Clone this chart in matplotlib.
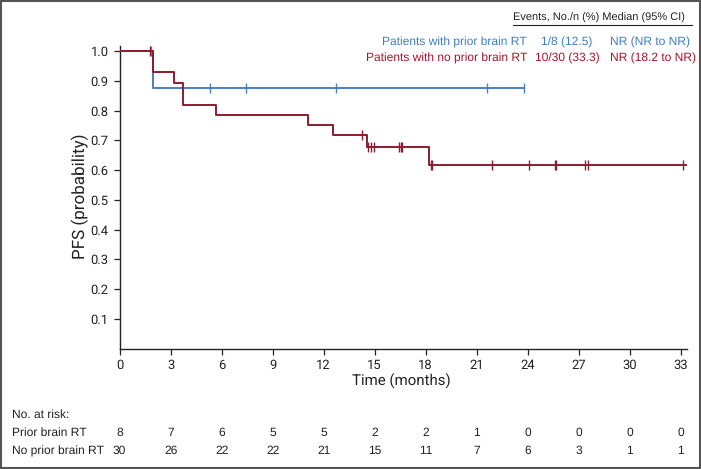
import matplotlib
matplotlib.use("Agg")
import matplotlib.pyplot as plt
from matplotlib.patches import Rectangle

plt.rcParams["text.hinting"] = "no_hinting"
plt.rcParams["text.hinting_factor"] = 1

# ---- data ----
# Blue: prior brain RT
blue_times = [0, 1.95, 23.8]
blue_surv = [1.0, 0.875, 0.875]
blue_censor_t = [1.85, 5.3, 7.4, 12.7, 21.6, 23.8]
blue_censor_s = [1.0, 0.875, 0.875, 0.875, 0.875, 0.875]

# Red: no prior brain RT
red_times = [0, 1.95, 3.2, 3.75, 5.65, 11.05, 12.55, 14.55, 18.2, 33.4]
red_surv = [1.0, 0.931, 0.895, 0.821, 0.786, 0.752, 0.717, 0.677, 0.617, 0.617]
red_censor_t = [1.8, 14.25, 14.63, 14.78, 14.93, 16.42, 16.52, 16.62,
                18.3, 18.38, 21.92, 24.07, 25.6, 25.66, 27.4, 27.54, 33.15]
red_censor_s = [1.0, 0.717, 0.677, 0.677, 0.677, 0.677, 0.677, 0.677,
                0.617, 0.617, 0.617, 0.617, 0.617, 0.617, 0.617, 0.617, 0.617]

x_ticks = [0, 3, 6, 9, 12, 15, 18, 21, 24, 27, 30, 33]
y_ticks = [0.1, 0.2, 0.3, 0.4, 0.5, 0.6, 0.7, 0.8, 0.9, 1.0]
risk_prior = [8, 7, 6, 5, 5, 2, 2, 1, 0, 0, 0, 0]
risk_noprior = [30, 26, 22, 22, 21, 15, 11, 7, 6, 3, 1, 1]

legend_rows = [
    ("Patients with prior brain RT", "1/8 (12.5)", "NR (NR to NR)"),
    ("Patients with no prior brain RT", "10/30 (33.3)", "NR (18.2 to NR)"),
]

BLUE = "#4a80c0"
RED = "#8c1d2e"
BLUE_T = "#3f7fc0"
RED_T = "#a3182c"
AX = "#222222"

W, H = 701, 469
fig = plt.figure(figsize=(W / 100, H / 100), dpi=100)
left, right, bottom, top = 119.7, 687.5, 348.5, 46.0
ax = fig.add_axes([left / W, (H - bottom) / H, (right - left) / W, (bottom - top) / H])

ax.step(blue_times, blue_surv, where="post", color=BLUE, lw=1.4, zorder=3)
ax.step(red_times, red_surv, where="post", color=RED, lw=1.4, zorder=4)
ax.plot(blue_censor_t, blue_censor_s, ls="none", marker="|", ms=7, mew=1.0, color=BLUE, zorder=3)
ax.plot(red_censor_t, red_censor_s, ls="none", marker="|", ms=7, mew=1.0, color=RED, zorder=4)

ax.set_xlim(0, 33.4)
ax.set_ylim(0, 1.018)
for s in ["top", "right"]:
    ax.spines[s].set_visible(False)
for s in ["left", "bottom"]:
    ax.spines[s].set_color(AX)
    ax.spines[s].set_linewidth(1.0)
ax.set_xticks(x_ticks)
ax.set_xticklabels([str(t) for t in x_ticks], fontfamily="Roboto", fontsize=9)
ax.set_yticks(y_ticks)
ax.set_yticklabels([f"{v:.1f}" for v in y_ticks], fontfamily="Roboto", fontsize=9)
ax.tick_params(direction="out", length=4, width=0.9, color=AX, labelcolor=AX)
ax.tick_params(axis="y", pad=4)
ax.tick_params(axis="x", pad=4)

fig.text(80 / W, 1 - 196 / H, "PFS (probability)", rotation=90, ha="center", va="center",
         fontfamily="Roboto", fontsize=12, color=AX)
fig.text(401 / W, 1 - 380 / H, "Time (months)", ha="center", va="center",
         fontfamily="Roboto", fontsize=11, color=AX)

# legend table
lf = "Liberation Sans"
fs = 8.5
fig.text(513 / W, 1 - 18 / H, "Events, No./n (%) Median (95% CI)", ha="left", va="center",
         fontfamily=lf, fontsize=7.95, color=AX)
fig.add_artist(plt.Line2D([513 / W, 692 / W], [1 - 25.5 / H, 1 - 25.5 / H], color=AX, lw=0.8))
for (name, ev, med), yy, c in zip(legend_rows, [42, 58], [BLUE_T, RED_T]):
    fig.text(527 / W, 1 - yy / H, name, ha="right", va="center", fontfamily=lf, fontsize=fs, color=c)
    fig.text(567 / W, 1 - yy / H, ev, ha="center", va="center", fontfamily=lf, fontsize=fs, color=c)
    fig.text(610 / W, 1 - yy / H, med, ha="left", va="center", fontfamily=lf, fontsize=fs, color=c)

# risk table
rf = 8.7
fig.text(12 / W, 1 - 415 / H, "No. at risk:", ha="left", va="center", fontfamily=lf, fontsize=rf, color=AX)
fig.text(12 / W, 1 - 433 / H, "Prior brain RT", ha="left", va="center", fontfamily=lf, fontsize=rf, color=AX)
fig.text(12 / W, 1 - 451 / H, "No prior brain RT", ha="left", va="center", fontfamily=lf, fontsize=rf, color=AX)
for t, a, b in zip(x_ticks, risk_prior, risk_noprior):
    xx = ax.transData.transform((t, 0))[0] / W
    fig.text(xx, 1 - 433 / H, str(a), ha="center", va="center", fontfamily=lf, fontsize=rf, color=AX)
    fig.text(xx, 1 - 451 / H, str(b), ha="center", va="center", fontfamily=lf, fontsize=rf, color=AX)

fig.add_artist(Rectangle((1 / W, 1 / H), (W - 2.5) / W, (H - 2.5) / H, transform=fig.transFigure,
                         fill=False, edgecolor="#555555", lw=1.5))

fig.savefig("out.png", dpi=100)
